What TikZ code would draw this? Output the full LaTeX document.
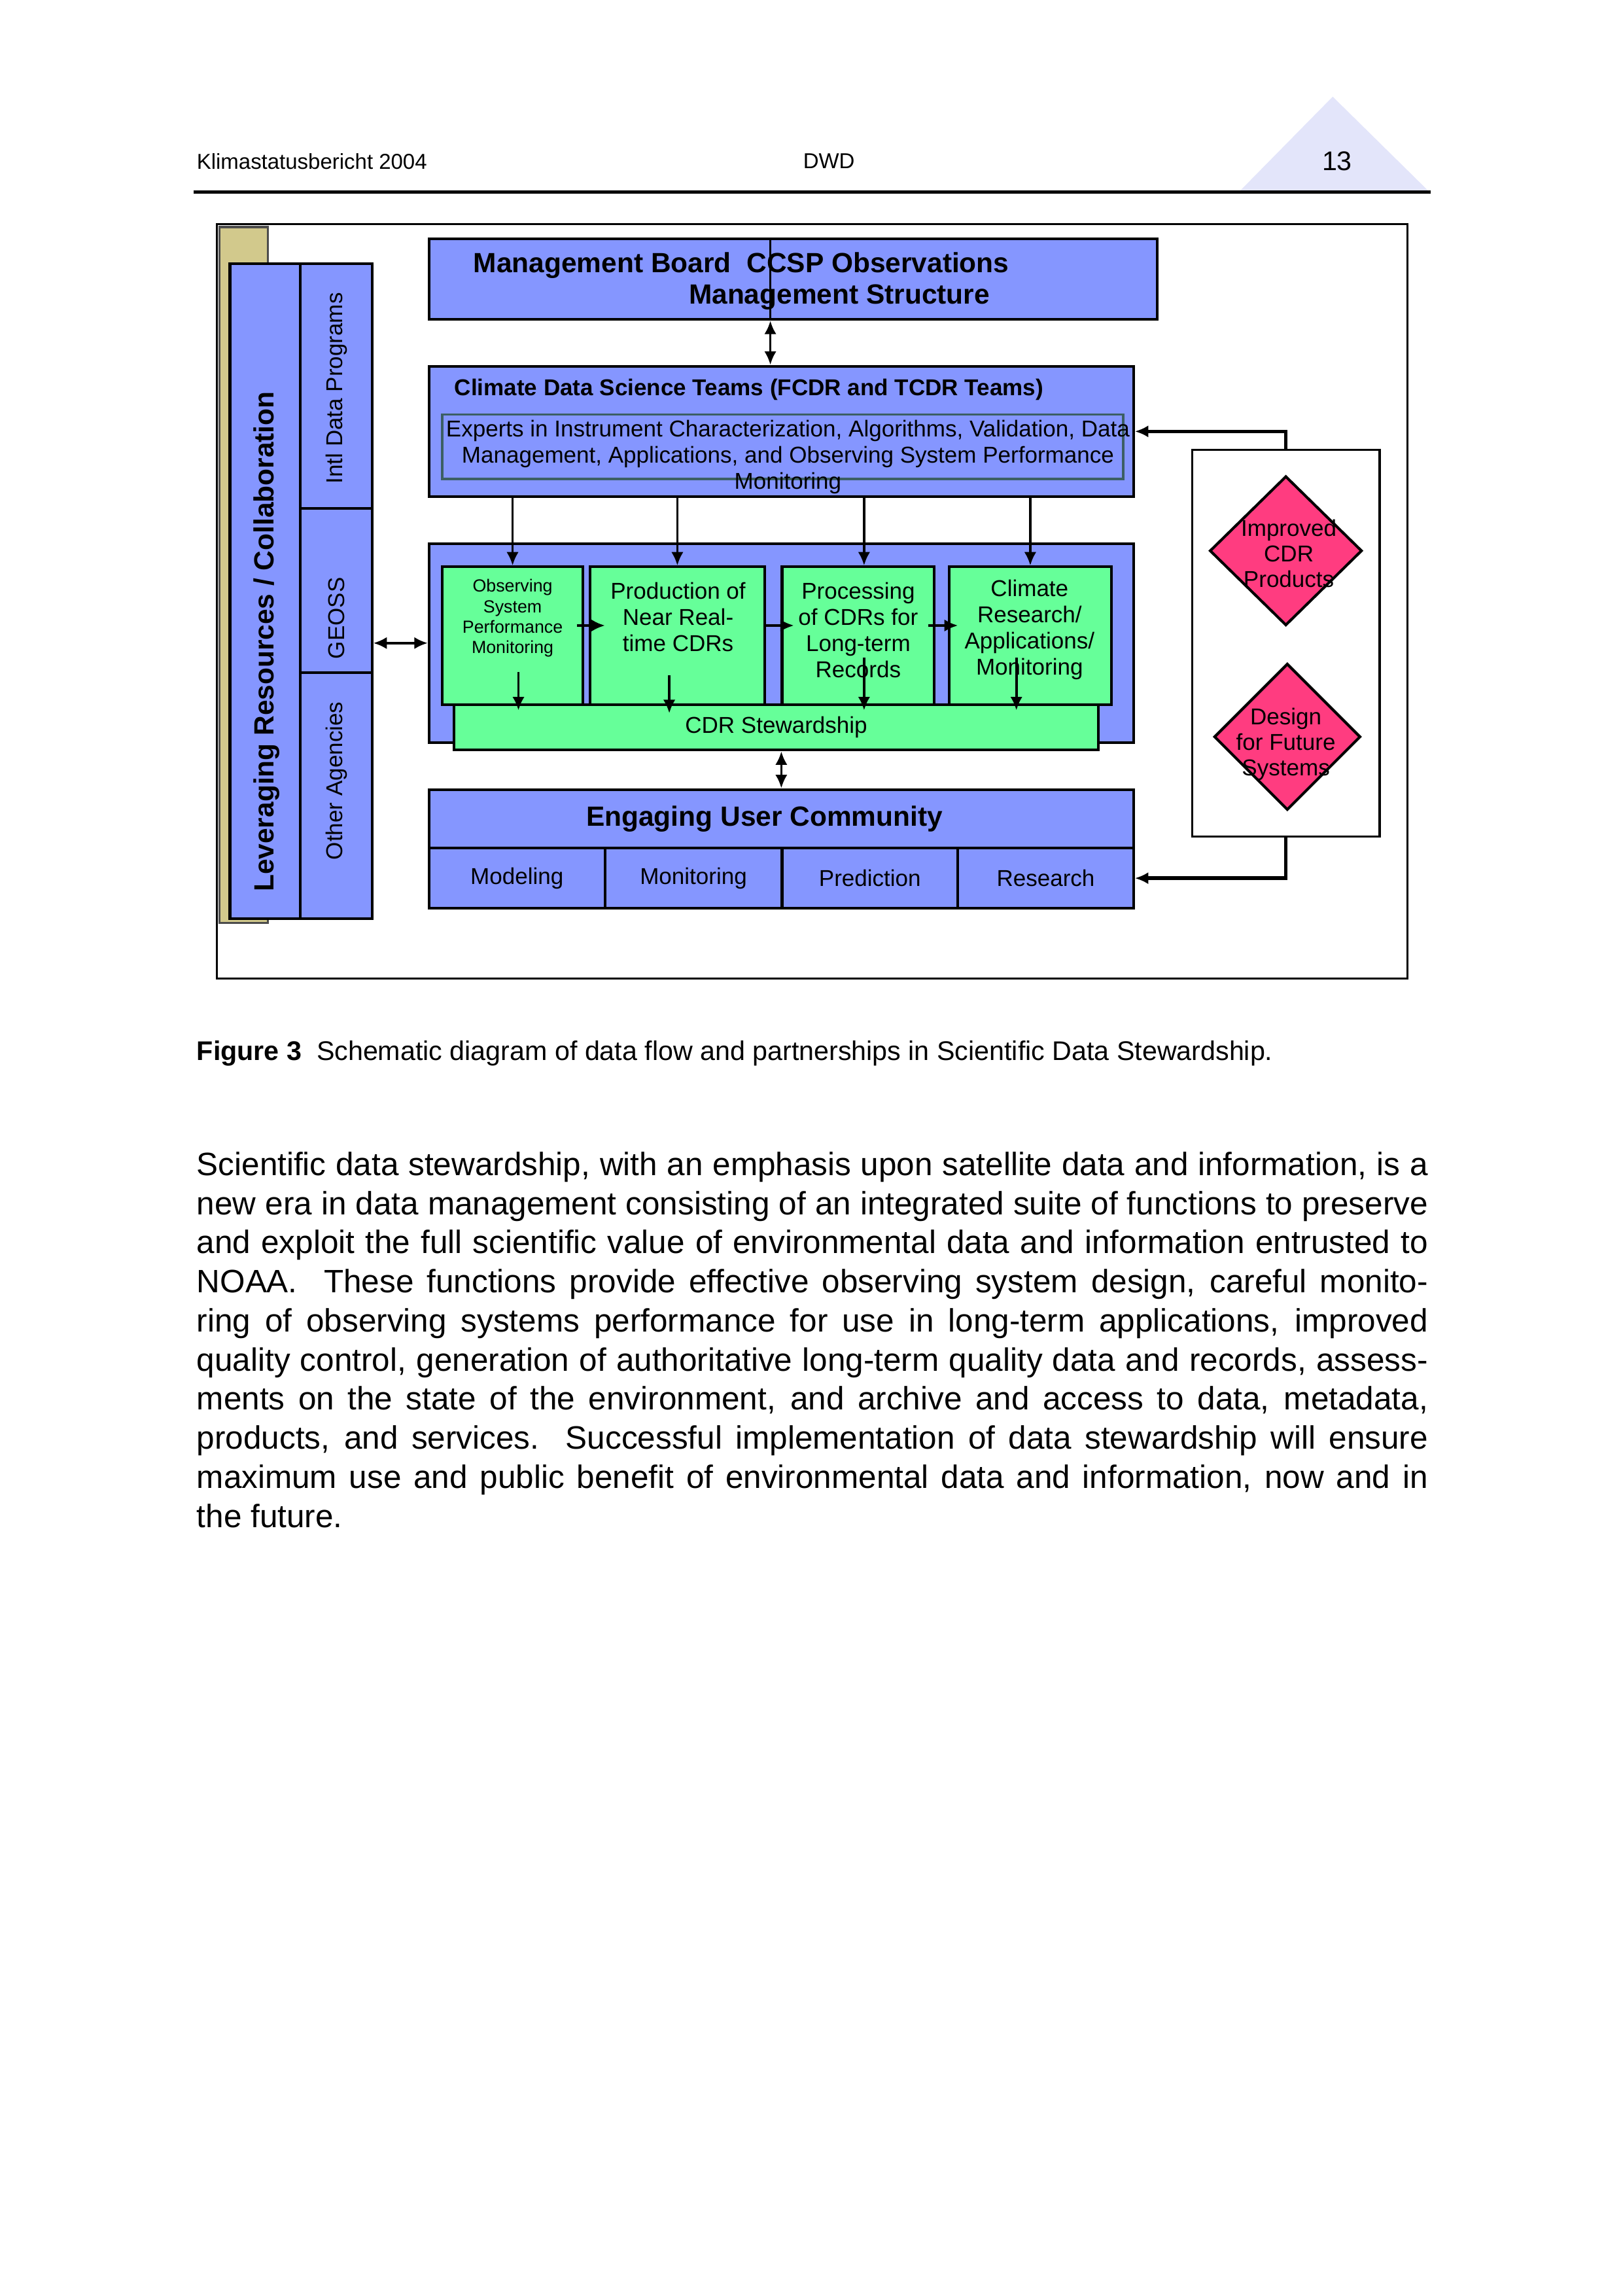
\documentclass[tikz,border=0pt]{standalone}
\usepackage{fontspec}
\setmainfont{Liberation Sans}
\usepackage{tikz}
\usetikzlibrary{shapes.geometric, arrows.meta, positioning, calc}
\usepackage{xcolor}
\definecolor{periblue}{RGB}{133,150,255}
\definecolor{cdrgreen}{RGB}{102,255,153}
\definecolor{cdrpink}{RGB}{255,60,128}
\definecolor{khaki}{RGB}{210,201,140}
\definecolor{pagetri}{RGB}{227,229,250}
\definecolor{innerline}{RGB}{60,95,100}
\newcommand{\spx}{0.19091mm}

\begin{document}
\begin{tikzpicture}[x=0.19091mm, y=-0.19091mm, >={Latex[length=5pt,width=4.5pt]}]
                % Styles
                \tikzstyle{bluebox}=[draw, line width=1pt, fill=periblue, inner sep=0pt]
                \tikzstyle{greenbox}=[draw, line width=1pt, fill=cdrgreen, inner sep=0pt]
                \tikzstyle{decide}=[diamond, draw, line width=1pt, fill=cdrpink, inner sep=0pt]
                \tikzstyle{lbl}=[inner sep=0pt, align=center, font=\fontsize{8.5}{9.7}\selectfont]
                \tikzstyle{boldlbl}=[inner sep=0pt, font=\bfseries\fontsize{10.3}{12}\selectfont]
                \tikzstyle{cell}=[bluebox, minimum height=41*\spx, font=\fontsize{8.5}{10}\selectfont]
                \tikzstyle{link}=[->, line width=0.9pt]
                \tikzstyle{twoway}=[<->, line width=0.9pt]
                \tikzstyle{loop}=[->, line width=1.3pt]

                \fill[white] (0,0) rectangle (1108,1567.4);
                \useasboundingbox (0,0) rectangle (1108,1567.4);

                % Page header
                \fill[pagetri] (846,131) -- (910,66) -- (976,131) -- cycle;
                \node[anchor=west, inner sep=0pt, font=\fontsize{8}{10}\selectfont] (hdrleft) at (134,110) {Klimastatusbericht 2004};
                \node[font=\fontsize{8}{10}\selectfont] (hdrmid) at (566,110) {DWD};
                \node[font=\fontsize{10}{12}\selectfont] (pageno) at (913,110) {13};
                \draw[line width=1.3pt] (132,131) -- (977,131);

                % Frame
                \draw[line width=0.7pt] (148,153) rectangle (961,668);

                % Partners column
                \draw[line width=0.8pt, draw=black!70, fill=khaki] (150,155) rectangle (183,630);
                \node[bluebox, minimum width=48*\spx, minimum height=447*\spx] (lev) at (181,403.5) {};
                \node[bluebox, minimum width=49*\spx, minimum height=167*\spx] (intl) at (229.5,263.5) {};
                \node[bluebox, minimum width=49*\spx, minimum height=112*\spx] (geoss) at (229.5,403) {};
                \node[bluebox, minimum width=49*\spx, minimum height=168*\spx] (other) at (229.5,543) {};
                \node[boldlbl, rotate=90] (levtxt) at (182,438) {Leveraging Resources / Collaboration};
                \node[lbl, rotate=90] (intltxt) at (230,265) {Intl Data Programs};
                \node[lbl, rotate=90] (geosstxt) at (230,422) {GEOSS};
                \node[lbl, rotate=90] (othertxt) at (230,533) {Other Agencies};

                % Management board
                \node[bluebox, minimum width=497*\spx, minimum height=55*\spx] (mgmt) at (541.5,190.5) {};
                \node[boldlbl, anchor=west] (mgmt1) at (323,181) {Management Board\ \ CCSP Observations};
                \node[boldlbl, anchor=west] (mgmt2) at (470,203) {Management Structure};

                % Science teams
                \node[bluebox, minimum width=481*\spx, minimum height=89*\spx] (clim) at (533.5,294.5) {};
                \node[inner sep=0pt, anchor=west, font=\bfseries\fontsize{8.5}{10}\selectfont] (climtxt) at (310,266) {Climate Data Science Teams (FCDR and TCDR Teams)};
                \node[draw=innerline, line width=0.8pt, inner sep=0pt, minimum width=465*\spx, minimum height=44*\spx] (experts) at (534.5,305) {};
                \node[inner sep=0pt, align=center, font=\fontsize{8.5}{9.7}\selectfont] (exptxt) at (538,312) {Experts in Instrument Characterization, Algorithms, Validation, Data\\Management, Applications, and Observing System Performance\\Monitoring};

                % Data flow
                \node[bluebox, minimum width=481*\spx, minimum height=136*\spx] (cont) at (533.5,439) {};
                \node[greenbox, minimum width=96*\spx, minimum height=94*\spx] (obs) at (350,434) {};
                \node[greenbox, minimum width=119*\spx, minimum height=94*\spx] (prod) at (462.5,434) {};
                \node[greenbox, minimum width=104*\spx, minimum height=94*\spx] (proc) at (586,434) {};
                \node[greenbox, minimum width=111*\spx, minimum height=94*\spx] (resa) at (703.5,434) {};
                \node[lbl, font=\fontsize{6.5}{7.6}\selectfont] (obstxt) at (350,422) {Observing\\System\\Performance\\Monitoring};
                \node[lbl] (prodtxt) at (463,421) {Production of\\Near Real-\\time CDRs};
                \node[lbl] (proctxt) at (586,430) {Processing\\of CDRs for\\Long-term\\Records};
                \node[lbl] (resatxt) at (703,430) {Climate\\Research/\\Applications/\\Monitoring};
                \node[greenbox, minimum width=440*\spx, minimum height=31*\spx, font=\fontsize{8.5}{10}\selectfont] (stew) at (530,496.5) {CDR Stewardship};

                % User community
                \node[bluebox, minimum width=481*\spx, minimum height=40*\spx] (engage) at (533.5,559) {};
                \node[boldlbl] (engtxt) at (522,559) {Engaging User Community};
                \node[cell, minimum width=120*\spx] (modl) at (353,599.5) {Modeling};
                \node[cell, minimum width=121*\spx] (moni) at (473.5,599.5) {Monitoring\hspace{7.6pt}};
                \node[cell, minimum width=120*\spx] (pred) at (594,599.5) {Prediction\hspace{8.7pt}};
                \node[cell, minimum width=120*\spx] (rsch) at (714,599.5) {Research\hspace{9.7pt}};

                % Outcomes
                \node[draw, line width=0.8pt, fill=white, inner sep=0pt, minimum width=128*\spx, minimum height=264*\spx] (fut) at (878,439) {};
                \node[decide, minimum width=104*\spx, minimum height=102*\spx] (impr) at (878,376) {};
                \node[decide, minimum width=100*\spx, minimum height=100*\spx] (dsgn) at (879,503) {};
                \node[lbl, font=\fontsize{8.5}{9.5}\selectfont] (imprtxt) at (880,378) {Improved\\CDR\\Products};
                \node[lbl, font=\fontsize{8.5}{9.5}\selectfont] (dsgntxt) at (878,508) {Design\\for Future\\Systems};

                % Arrows
                \coordinate (mgx) at (526,0);
                \draw[line width=0.6pt] (mgmt.north -| mgx) -- (mgmt.south -| mgx);
                \draw[twoway] (mgmt.south -| mgx) -- (clim.north -| mgx);
                \draw[link] (clim.south -| obs.north) -- (obs.north);
                \draw[link] (clim.south -| prod.north) -- (prod.north);
                \draw[link] ($(clim.south -| proc.north)+(4,0)$) -- ($(proc.north)+(4,0)$);
                \draw[link] (clim.south -| resa.north) -- (resa.north);
                \draw[link] ($(obs.east)+(-5,-7)$) -- ($(prod.west)+(11,-7)$);
                \draw[link] ($(prod.east)+(-1,-7)$) -- ($(proc.west)+(9,-7)$);
                \draw[link] ($(proc.east)+(-5,-7)$) -- ($(resa.west)+(7,-7)$);
                \draw[link] ($(obs.south)+(4,-23)$) -- ($(obs.south)+(4,3)$);
                \draw[link] ($(prod.south)+(-5.5,-21)$) -- ($(prod.south)+(-5.5,5)$);
                \draw[link] ($(proc.south)+(4,-33)$) -- ($(proc.south)+(4,3)$);
                \draw[link] ($(resa.south)+(-9.5,-33)$) -- ($(resa.south)+(-9.5,3)$);
                \draw[twoway] (engage.north |- stew.south) -- (engage.north);
                \draw[twoway] (cont.west -| geoss.east) -- (cont.west);
                \draw[loop] (fut.north) |- (clim.east);
                \draw[loop] (fut.south) |- (rsch.east);

                % Caption
                \node[anchor=west, inner sep=0pt, font=\fontsize{10}{12}\selectfont] (caption) at (134,719) {\textbf{Figure 3}\ \ Schematic diagram of data flow and partnerships in Scientific Data Stewardship.};

                % Body text
                \node[anchor=north west, inner sep=0pt, align=left, font=\fontsize{12}{14.5}\selectfont] (body) at (134,786) {%
                \makebox[160.5mm][s]{Scientific data stewardship, with an emphasis upon satellite data and information, is a}\\
                \makebox[160.5mm][s]{new era in data management consisting of an integrated suite of functions to preserve}\\
                \makebox[160.5mm][s]{and exploit the full scientific value of environmental data and information entrusted to}\\
                \makebox[160.5mm][s]{NOAA.\ \ These functions provide effective observing system design, careful monito-}\\
                \makebox[160.5mm][s]{ring of observing systems performance for use in long-term applications, improved}\\
                \makebox[160.5mm][s]{quality control, generation of authoritative long-term quality data and records, assess-}\\
                \makebox[160.5mm][s]{ments on the state of the environment, and archive and access to data, metadata,}\\
                \makebox[160.5mm][s]{products, and services.\ \ Successful implementation of data stewardship will ensure}\\
                \makebox[160.5mm][s]{maximum use and public benefit of environmental data and information, now and in}\\
                the future.};
            \end{tikzpicture}
\end{document}
